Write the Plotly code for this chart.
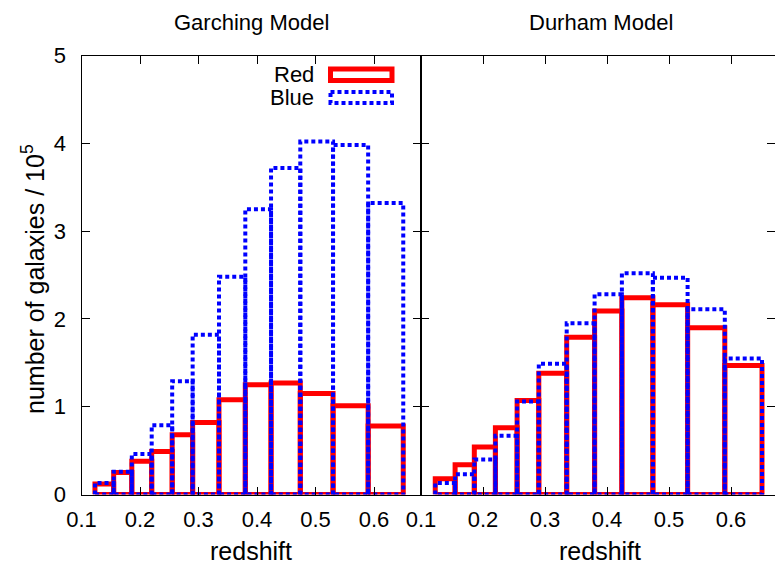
import plotly.graph_objects as go

# ---- data ----
bin_edges = [0.123, 0.155, 0.186, 0.220, 0.255, 0.290, 0.335, 0.380, 0.424, 0.474, 0.530, 0.590, 0.650]
garching_red = [0.12, 0.25, 0.38, 0.49, 0.68, 0.82, 1.08, 1.25, 1.27, 1.15, 1.01, 0.78]
garching_blue = [0.13, 0.26, 0.46, 0.79, 1.29, 1.82, 2.48, 3.25, 3.72, 4.02, 3.98, 3.32]
durham_red = [0.18, 0.34, 0.54, 0.76, 1.07, 1.38, 1.79, 2.09, 2.24, 2.16, 1.90, 1.47]
durham_blue = [0.13, 0.23, 0.40, 0.67, 1.06, 1.49, 1.95, 2.28, 2.52, 2.47, 2.11, 1.55]
x_ticks = [0.1, 0.2, 0.3, 0.4, 0.5, 0.6]
y_ticks = [0, 1, 2, 3, 4, 5]

W, H = 775, 567
FONT = "Liberation Sans, Arial, Helvetica, sans-serif"
FS = 22
FS_LABEL = 25

def px_x(p):
    return p / W

def px_y(p):
    return 1 - p / H

def outline(edges, heights):
    xs, ys = [], []
    for i, h in enumerate(heights):
        x0, x1 = edges[i], edges[i + 1]
        xs += [x0, x0, x1, x1, x0, None]
        ys += [0, h, h, 0, 0, None]
    return xs, ys

fig = go.Figure()

red_style = dict(color="#ff0000", width=5)
blue_style = dict(color="#0000ff", width=4, dash="4px,3px")

for (red, blue, xa, ya) in [(garching_red, garching_blue, "x", "y"),
                            (durham_red, durham_blue, "x2", "y2")]:
    xs, ys = outline(bin_edges, red)
    fig.add_trace(go.Scatter(x=xs, y=ys, mode="lines", line=red_style,
                             xaxis=xa, yaxis=ya, showlegend=False, hoverinfo="skip"))
    xs, ys = outline(bin_edges, blue)
    fig.add_trace(go.Scatter(x=xs, y=ys, mode="lines", line=blue_style,
                             xaxis=xa, yaxis=ya, showlegend=False, hoverinfo="skip"))

# invisible trace so the right-edge tick axis is drawn
fig.add_trace(go.Scatter(x=[0.2], y=[-1], mode="lines", xaxis="x2", yaxis="y3",
                         showlegend=False, hoverinfo="skip", line=dict(width=0)))

x_left = 81.5
x_mid = 421.0
y_top = 55.5
y_bot = 494.5
px_per_01_right = 62.0
right_max = 0.1 + (W - x_mid) / px_per_01_right * 0.1

common_x = dict(showline=True, linecolor="black", linewidth=1, ticks="inside", ticklen=8,
                tickwidth=1, tickcolor="black", mirror="ticks", showgrid=False, zeroline=False,
                tickvals=x_ticks, ticktext=[f"{v:.1f}" for v in x_ticks],
                tickfont=dict(family=FONT, size=FS, color="black"), automargin=False,
                ticklabelstandoff=5)
common_y = dict(showline=True, linecolor="black", linewidth=1, ticks="inside", ticklen=8,
                tickwidth=1, tickcolor="black", showgrid=False, zeroline=False,
                range=[0, 5], tickvals=y_ticks,
                tickfont=dict(family=FONT, size=FS, color="black"), automargin=False)

fig.update_layout(
    width=W, height=H,
    margin=dict(l=0, r=0, t=0, b=0),
    paper_bgcolor="white", plot_bgcolor="white",
    font=dict(family=FONT, size=FS, color="black"),
    xaxis=dict(domain=[px_x(x_left), px_x(x_mid)], range=[0.1, 0.1 + (x_mid - x_left) / 585.0], anchor="y", **common_x),
    xaxis2=dict(domain=[px_x(x_mid), 1.0], range=[0.1, right_max], anchor="y2", **common_x),
    yaxis=dict(domain=[px_y(y_bot), px_y(y_top)], anchor="x", mirror="ticks", ticklabelstandoff=10, **common_y),
    yaxis2=dict(domain=[px_y(y_bot), px_y(y_top)], anchor="x2", mirror=False, showticklabels=False, **common_y),
    yaxis3=dict(overlaying="y2", anchor="x2", side="right", showline=False, ticks="inside", ticklen=8,
                tickwidth=1, tickcolor="black", showticklabels=False, showgrid=False, zeroline=False,
                range=[0, 5], tickvals=y_ticks, automargin=False),
)

ann = []
ann.append(dict(text="Garching Model", x=px_x(252), y=px_y(22), xref="paper", yref="paper",
                showarrow=False, xanchor="center", yanchor="middle", font=dict(family=FONT, size=FS)))
ann.append(dict(text="Durham Model", x=px_x(601), y=px_y(22), xref="paper", yref="paper",
                showarrow=False, xanchor="center", yanchor="middle", font=dict(family=FONT, size=FS)))
ann.append(dict(text="redshift", x=px_x(251), y=px_y(551), xref="paper", yref="paper",
                showarrow=False, xanchor="center", yanchor="middle", font=dict(family=FONT, size=FS_LABEL)))
ann.append(dict(text="redshift", x=px_x(600), y=px_y(551), xref="paper", yref="paper",
                showarrow=False, xanchor="center", yanchor="middle", font=dict(family=FONT, size=FS_LABEL)))
ann.append(dict(text="number of galaxies / 10<sup>5</sup>", x=px_x(33), y=px_y(279), xref="paper", yref="paper",
                showarrow=False, xanchor="center", yanchor="middle", textangle=-90,
                font=dict(family=FONT, size=FS_LABEL)))
# legend
ann.append(dict(text="Red", x=px_x(316), y=px_y(74.5), xref="paper", yref="paper",
                showarrow=False, xanchor="right", yanchor="middle", font=dict(family=FONT, size=FS)))
ann.append(dict(text="Blue", x=px_x(316), y=px_y(97.5), xref="paper", yref="paper",
                showarrow=False, xanchor="right", yanchor="middle", font=dict(family=FONT, size=FS)))
fig.update_layout(annotations=ann)

fig.add_shape(type="rect", xref="paper", yref="paper",
              x0=px_x(330.5), x1=px_x(392), y0=px_y(69), y1=px_y(80.5),
              line=dict(color="#ff0000", width=5), fillcolor="rgba(0,0,0,0)")
fig.add_shape(type="rect", xref="paper", yref="paper",
              x0=px_x(330.5), x1=px_x(392), y0=px_y(92), y1=px_y(103),
              line=dict(color="#0000ff", width=4, dash="4px,3px"), fillcolor="rgba(0,0,0,0)")

fig.write_html("out.html")
